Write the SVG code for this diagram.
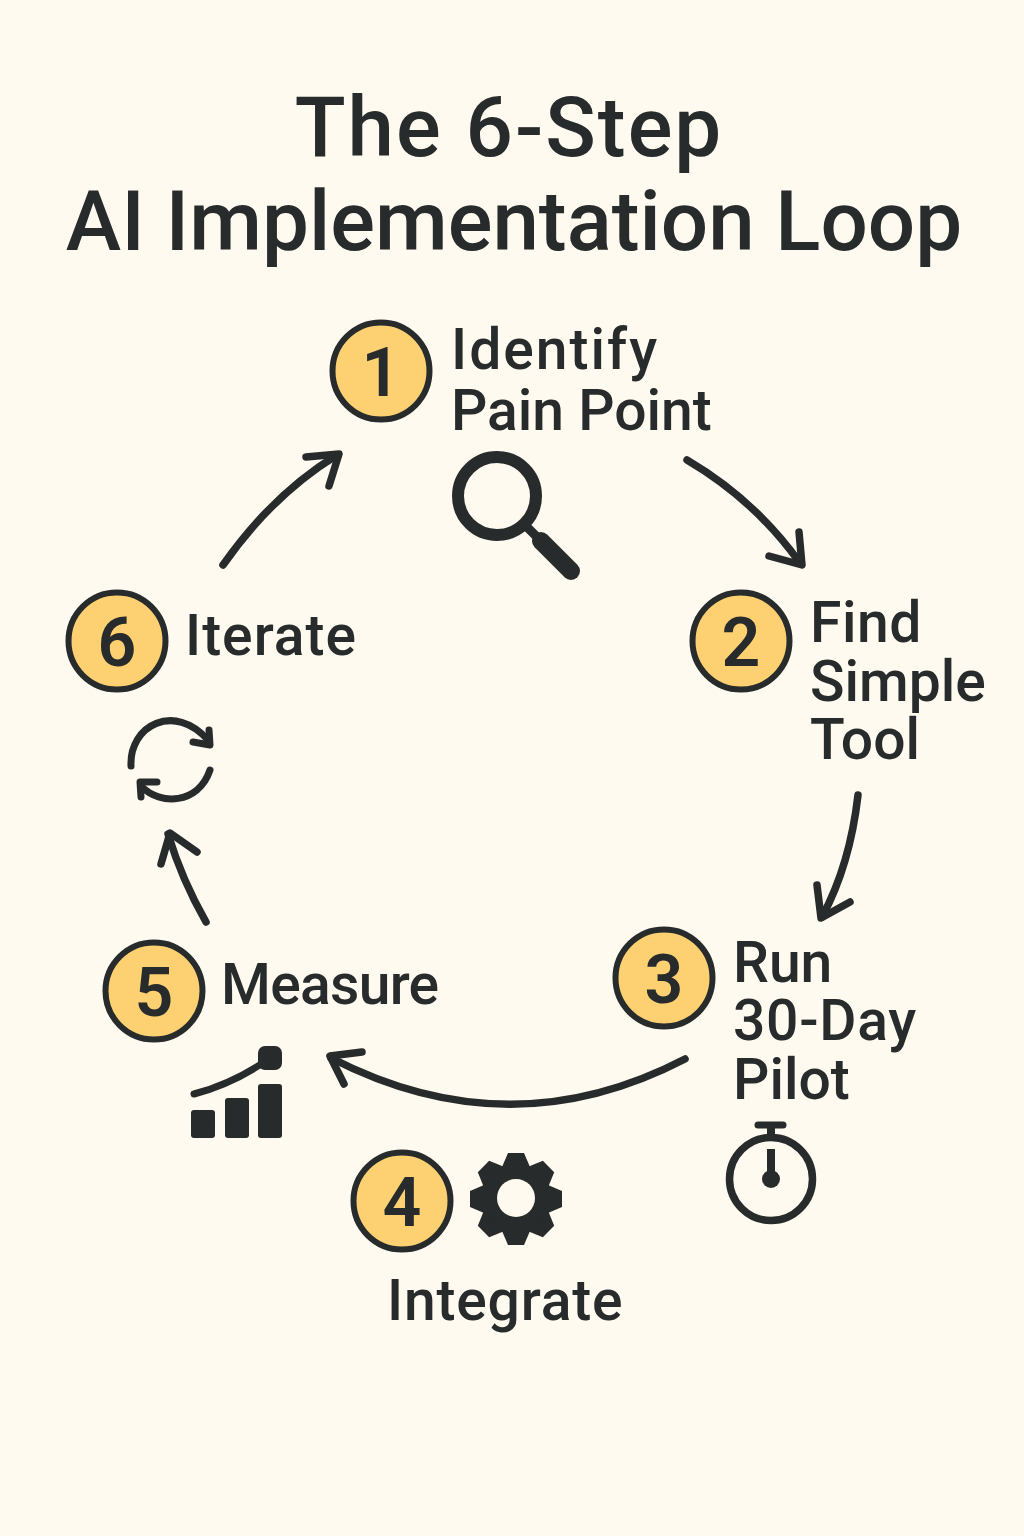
<svg xmlns="http://www.w3.org/2000/svg" xmlns:xlink="http://www.w3.org/1999/xlink" width="1024" height="1536" viewBox="0 0 1024 1536">
<style>
text{font-family:"Roboto","Noto Sans","Liberation Sans",sans-serif;fill:#272b2b}
.title{font-size:83.500px;font-weight:500;text-anchor:middle}
.lbl{font-size:57px;font-weight:500}
.num{font-size:68px;font-weight:600;text-anchor:middle}
.badge{fill:#fdd072;stroke:#272b2b;stroke-width:6}
.line{fill:none;stroke:#272b2b;stroke-linecap:round;stroke-linejoin:round}
.solid{fill:#272b2b}
</style>
<defs>
<path id="tooth" d="M-14,-32 L-8,-46 L8,-46 L14,-32 Z"/>
</defs>
<rect width="1024" height="1536" fill="#fffaf0"/>
<g id="title">
<text class="title" x="509" y="156" letter-spacing="2">The 6-Step</text>
<text class="title" x="514" y="250">AI Implementation Loop</text>
</g>
<g id="connectors" class="line" stroke-width="7.500">
<path d="M223,565 Q272,495 337,455"/><path d="M306,457 L339,454 L329,486"/>
<path d="M687,460 Q755,500 800,563"/><path d="M769,556 L802,565 L799,532"/>
<path d="M858,795 Q850,865 822,917"/><path d="M817,885 L821,918 L850,902"/>
<path d="M685,1059 Q510,1150 331,1058"/><path d="M344,1084 L330,1056 L362,1052"/>
<path d="M206,922 Q182,880 168,834"/><path d="M161,864 L170,833 L197,852"/>
</g>
<g id="node1">
<circle class="badge" cx="381" cy="371" r="48.500"/><text class="num" x="381" y="396">1</text>
<text class="lbl" x="451" y="369" letter-spacing="2">Identify</text><text class="lbl" x="451" y="430">Pain Point</text>
<g id="icon-search"><circle class="line" cx="497" cy="496" r="39" stroke-width="12"/>
<path class="line" d="M525,525 L540,540" stroke-width="9"/><path class="line" d="M541,541 L571,571" stroke-width="18"/></g>
</g>
<g id="node2">
<circle class="badge" cx="741" cy="641" r="48.500"/><text class="num" x="741" y="666">2</text>
<text class="lbl" x="810" y="642" letter-spacing="0.500">Find</text><text class="lbl" x="810" y="701">Simple</text><text class="lbl" x="810" y="759">Tool</text>
</g>
<g id="node3">
<circle class="badge" cx="664" cy="978" r="48.500"/><text class="num" x="664" y="1003">3</text>
<text class="lbl" x="733" y="982">Run</text><text class="lbl" x="733" y="1040" letter-spacing="0.700">30-Day</text><text class="lbl" x="733" y="1099">Pilot</text>
<g id="icon-timer"><circle class="line" cx="771" cy="1179" r="41.500" stroke-width="7.500"/>
<path class="line" d="M758,1125 H783" stroke-width="7"/><path d="M767,1127 h8 v10 h-8 Z M767,1149 h8 v22 h-8 Z" class="solid"/><circle class="solid" cx="771" cy="1179" r="9"/></g>
</g>
<g id="node4">
<circle class="badge" cx="402" cy="1201" r="48.500"/><text class="num" x="402" y="1226">4</text>
<g id="icon-gear" class="solid"><circle cx="516" cy="1199" r="35"/>
<use xlink:href="#tooth" href="#tooth" transform="translate(516 1199)"/>
<use xlink:href="#tooth" href="#tooth" transform="translate(516 1199) rotate(45)"/>
<use xlink:href="#tooth" href="#tooth" transform="translate(516 1199) rotate(90)"/>
<use xlink:href="#tooth" href="#tooth" transform="translate(516 1199) rotate(135)"/>
<use xlink:href="#tooth" href="#tooth" transform="translate(516 1199) rotate(180)"/>
<use xlink:href="#tooth" href="#tooth" transform="translate(516 1199) rotate(225)"/>
<use xlink:href="#tooth" href="#tooth" transform="translate(516 1199) rotate(270)"/>
<use xlink:href="#tooth" href="#tooth" transform="translate(516 1199) rotate(315)"/>
<circle cx="516" cy="1198" r="19" fill="#fffaf0"/></g>
<text class="lbl" x="387" y="1320" letter-spacing="0.800">Integrate</text>
</g>
<g id="node5">
<circle class="badge" cx="154" cy="991" r="48.500"/><text class="num" x="154" y="1016">5</text>
<text class="lbl" x="221" y="1004" letter-spacing="-0.700">Measure</text>
<g id="icon-chart"><path class="line" d="M194,1094 Q235,1083 270,1058" stroke-width="7"/>
<rect class="solid" x="258" y="1046" width="24" height="24" rx="7"/>
<rect class="solid" x="191" y="1110" width="24" height="28" rx="3"/><rect class="solid" x="225" y="1098" width="24" height="40" rx="3"/><rect class="solid" x="258" y="1084" width="24" height="54" rx="3"/></g>
</g>
<g id="node6">
<circle class="badge" cx="117" cy="641" r="48.500"/><text class="num" x="117" y="666">6</text>
<text class="lbl" x="185" y="655" letter-spacing="1">Iterate</text>
<g id="icon-cycle" class="line" stroke-width="7"><path d="M131,766 C129,725 175,702 208,740"/><path d="M193,742 L210,745 L209,730"/>
<path d="M210,770 C198,805 160,805 142,787"/><path d="M157,782 L140,782 L141,797"/></g>
</g>
</svg>
